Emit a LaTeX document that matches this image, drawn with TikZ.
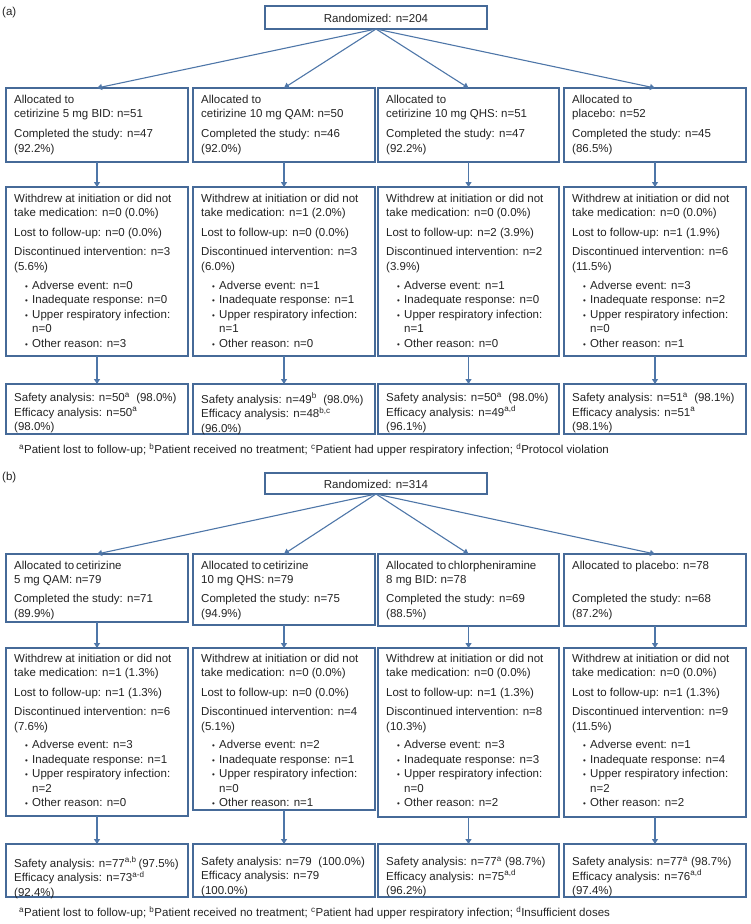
\documentclass[tikz,border=0pt]{standalone}
\usepackage{fontspec}
\setmainfont{Liberation Sans}
\usetikzlibrary{arrows.meta}
\definecolor{boxc}{RGB}{70,106,152}
\definecolor{arrc}{RGB}{78,118,168}
\definecolor{txtc}{RGB}{35,35,35}
% name, x1, y1, x2, y2, centre of first text line, text
\newcommand\fbx[7]{%
  \node[box, anchor=north west, minimum width={#4-#2}, minimum height={#5-#3}] (#1) at (#2,#3) {};
  \node[txt, anchor=north west] (#1t) at ({#2+8},{#6-4.3}) {#7};
}
\newcommand\itm[1]{\hspace*{11pt}\makebox[7pt][l]{\fontsize{8}{8}\selectfont\textbullet}#1}
\newcommand\cont[1]{\hspace*{18pt}#1}
\newcommand\sps[1]{\textsuperscript{#1}}
\begin{document}
\begin{tikzpicture}[x=1pt,y=-1pt,
  box/.style={draw=boxc, line width=1.5pt, inner sep=0pt, outer sep=0pt},
  txt/.style={inner sep=0pt, align=left, text=txtc, font=\fontsize{11.5}{14.5}\selectfont},
  arr/.style={draw=arrc, line width=1.1pt, -{Triangle[length=5pt,width=6pt]}}]
\useasboundingbox (0,0) rectangle (750,924);

% ---------------- (a) ----------------
\node[txt, anchor=west] (la) at (2,13) {(a)};
\node[box, anchor=north west, minimum width=222, minimum height=23] (ra) at (265,6) {};
\node[txt] (rat) at (376,18) {Randomized: n=204};

\fbx{a1}{6}{88}{188}{162}{99}{Allocated to\\cetirizine 5 mg BID: n=51\\[5.5pt]Completed the study: n=47\\(92.2\%)}
\fbx{a2}{193}{88}{375}{162}{99}{Allocated to\\cetirizine 10 mg QAM: n=50\\[5.5pt]Completed the study: n=46\\(92.0\%)}
\fbx{a3}{378}{88}{559}{162}{99}{Allocated to\\cetirizine 10 mg QHS: n=51\\[5.5pt]Completed the study: n=47\\(92.2\%)}
\fbx{a4}{564}{88}{746}{162}{99}{Allocated to\\placebo: n=52\\[5.5pt]Completed the study: n=45\\(86.5\%)}

\fbx{w1}{6}{187}{188}{356}{198}{Withdrew at initiation or did not\\take medication: n=0 (0.0\%)\\[5pt]Lost to follow-up: n=0 (0.0\%)\\[5pt]Discontinued intervention: n=3\\(5.6\%)\\[4.5pt]\itm{Adverse event: n=0}\\\itm{Inadequate response: n=0}\\\itm{Upper respiratory infection:}\\\cont{n=0}\\\itm{Other reason: n=3}}
\fbx{w2}{193}{187}{375}{356}{198}{Withdrew at initiation or did not\\take medication: n=1 (2.0\%)\\[5pt]Lost to follow-up: n=0 (0.0\%)\\[5pt]Discontinued intervention: n=3\\(6.0\%)\\[4.5pt]\itm{Adverse event: n=1}\\\itm{Inadequate response: n=1}\\\itm{Upper respiratory infection:}\\\cont{n=1}\\\itm{Other reason: n=0}}
\fbx{w3}{378}{187}{559}{356}{198}{Withdrew at initiation or did not\\take medication: n=0 (0.0\%)\\[5pt]Lost to follow-up: n=2 (3.9\%)\\[5pt]Discontinued intervention: n=2\\(3.9\%)\\[4.5pt]\itm{Adverse event: n=1}\\\itm{Inadequate response: n=0}\\\itm{Upper respiratory infection:}\\\cont{n=1}\\\itm{Other reason: n=0}}
\fbx{w4}{564}{187}{746}{356}{198}{Withdrew at initiation or did not\\take medication: n=0 (0.0\%)\\[5pt]Lost to follow-up: n=1 (1.9\%)\\[5pt]Discontinued intervention: n=6\\(11.5\%)\\[4.5pt]\itm{Adverse event: n=3}\\\itm{Inadequate response: n=2}\\\itm{Upper respiratory infection:}\\\cont{n=0}\\\itm{Other reason: n=1}}

\fbx{s1}{6}{384}{188}{434}{397}{Safety analysis: n=50\sps{a}\ \ (98.0\%)\\Efficacy analysis: n=50\sps{a}\\(98.0\%)}
\fbx{s2}{193}{384}{375}{434}{397}{Safety analysis: n=49\sps{b}\ \ (98.0\%)\\Efficacy analysis: n=48\sps{b,c}\\(96.0\%)}
\fbx{s3}{378}{384}{559}{434}{397}{Safety analysis: n=50\sps{a}\ \ (98.0\%)\\Efficacy analysis: n=49\sps{a,d}\\(96.1\%)}
\fbx{s4}{564}{384}{746}{434}{397}{Safety analysis: n=51\sps{a}\ \ (98.1\%)\\Efficacy analysis: n=51\sps{a}\\(98.1\%)}

\foreach \i in {1,2,3,4} {
  \draw[arr] (ra.south) -- (a\i.north);
  \draw[arr] (a\i.south) -- (w\i.north);
  \draw[arr] (w\i.south) -- (s\i.north);
}
\node[txt, anchor=west] (fa) at (19,450) {\sps{a}Patient lost to follow-up; \sps{b}Patient received no treatment; \sps{c}Patient had upper respiratory infection; \sps{d}Protocol violation};

% ---------------- (b) ----------------
\node[txt, anchor=west] (lb) at (2,478) {(b)};
\node[box, anchor=north west, minimum width=222, minimum height=21] (rb) at (265,473) {};
\node[txt] (rbt) at (376,484) {Randomized: n=314};

\fbx{b1}{6}{554}{188}{622}{565}{Allocated to\,cetirizine\\5 mg QAM: n=79\\[4.5pt]Completed the study: n=71\\(89.9\%)}
\fbx{b2}{193}{554}{375}{625}{565}{Allocated to\,cetirizine\\10 mg QHS: n=79\\[4.5pt]Completed the study: n=75\\(94.9\%)}
\fbx{b3}{378}{554}{559}{626}{565}{Allocated to\,chlorpheniramine\\8 mg BID: n=78\\[4.5pt]Completed the study: n=69\\(88.5\%)}
\fbx{b4}{564}{554}{746}{626}{565}{Allocated to placebo: n=78\\ \\[4.5pt]Completed the study: n=68\\(87.2\%)}

\fbx{v1}{6}{648}{188}{816}{658}{Withdrew at initiation or did not\\take medication: n=1 (1.3\%)\\[5pt]Lost to follow-up: n=1 (1.3\%)\\[5pt]Discontinued intervention: n=6\\(7.6\%)\\[4pt]\itm{Adverse event: n=3}\\\itm{Inadequate response: n=1}\\\itm{Upper respiratory infection:}\\\cont{n=2}\\\itm{Other reason: n=0}}
\fbx{v2}{193}{648}{375}{810}{658}{Withdrew at initiation or did not\\take medication: n=0 (0.0\%)\\[5pt]Lost to follow-up: n=0 (0.0\%)\\[5pt]Discontinued intervention: n=4\\(5.1\%)\\[4pt]\itm{Adverse event: n=2}\\\itm{Inadequate response: n=1}\\\itm{Upper respiratory infection:}\\\cont{n=0}\\\itm{Other reason: n=1}}
\fbx{v3}{378}{648}{559}{817}{658}{Withdrew at initiation or did not\\take medication: n=0 (0.0\%)\\[5pt]Lost to follow-up: n=1 (1.3\%)\\[5pt]Discontinued intervention: n=8\\(10.3\%)\\[4pt]\itm{Adverse event: n=3}\\\itm{Inadequate response: n=3}\\\itm{Upper respiratory infection:}\\\cont{n=0}\\\itm{Other reason: n=2}}
\fbx{v4}{564}{648}{746}{817}{658}{Withdrew at initiation or did not\\take medication: n=0 (0.0\%)\\[5pt]Lost to follow-up: n=1 (1.3\%)\\[5pt]Discontinued intervention: n=9\\(11.5\%)\\[4pt]\itm{Adverse event: n=1}\\\itm{Inadequate response: n=4}\\\itm{Upper respiratory infection:}\\\cont{n=2}\\\itm{Other reason: n=2}}

\fbx{t1}{6}{844}{188}{897}{861}{Safety analysis: n=77\sps{a,b}\,(97.5\%)\\Efficacy analysis: n=73\sps{a-d}\\(92.4\%)}
\fbx{t2}{193}{844}{375}{897}{861}{Safety analysis: n=79\ \ (100.0\%)\\Efficacy analysis: n=79\\(100.0\%)}
\fbx{t3}{378}{844}{559}{897}{861}{Safety analysis: n=77\sps{a}\ (98.7\%)\\Efficacy analysis: n=75\sps{a,d}\\(96.2\%)}
\fbx{t4}{564}{844}{746}{897}{861}{Safety analysis: n=77\sps{a}\ (98.7\%)\\Efficacy analysis: n=76\sps{a,d}\\(97.4\%)}

\foreach \i in {1,2,3,4} {
  \draw[arr] (rb.south) -- (b\i.north);
  \draw[arr] (b\i.south) -- (v\i.north);
  \draw[arr] (v\i.south) -- (t\i.north);
}
\node[txt, anchor=west] (fb) at (19,913) {\sps{a}Patient lost to follow-up; \sps{b}Patient received no treatment; \sps{c}Patient had upper respiratory infection; \sps{d}Insufficient doses};
\end{tikzpicture}
\end{document}
